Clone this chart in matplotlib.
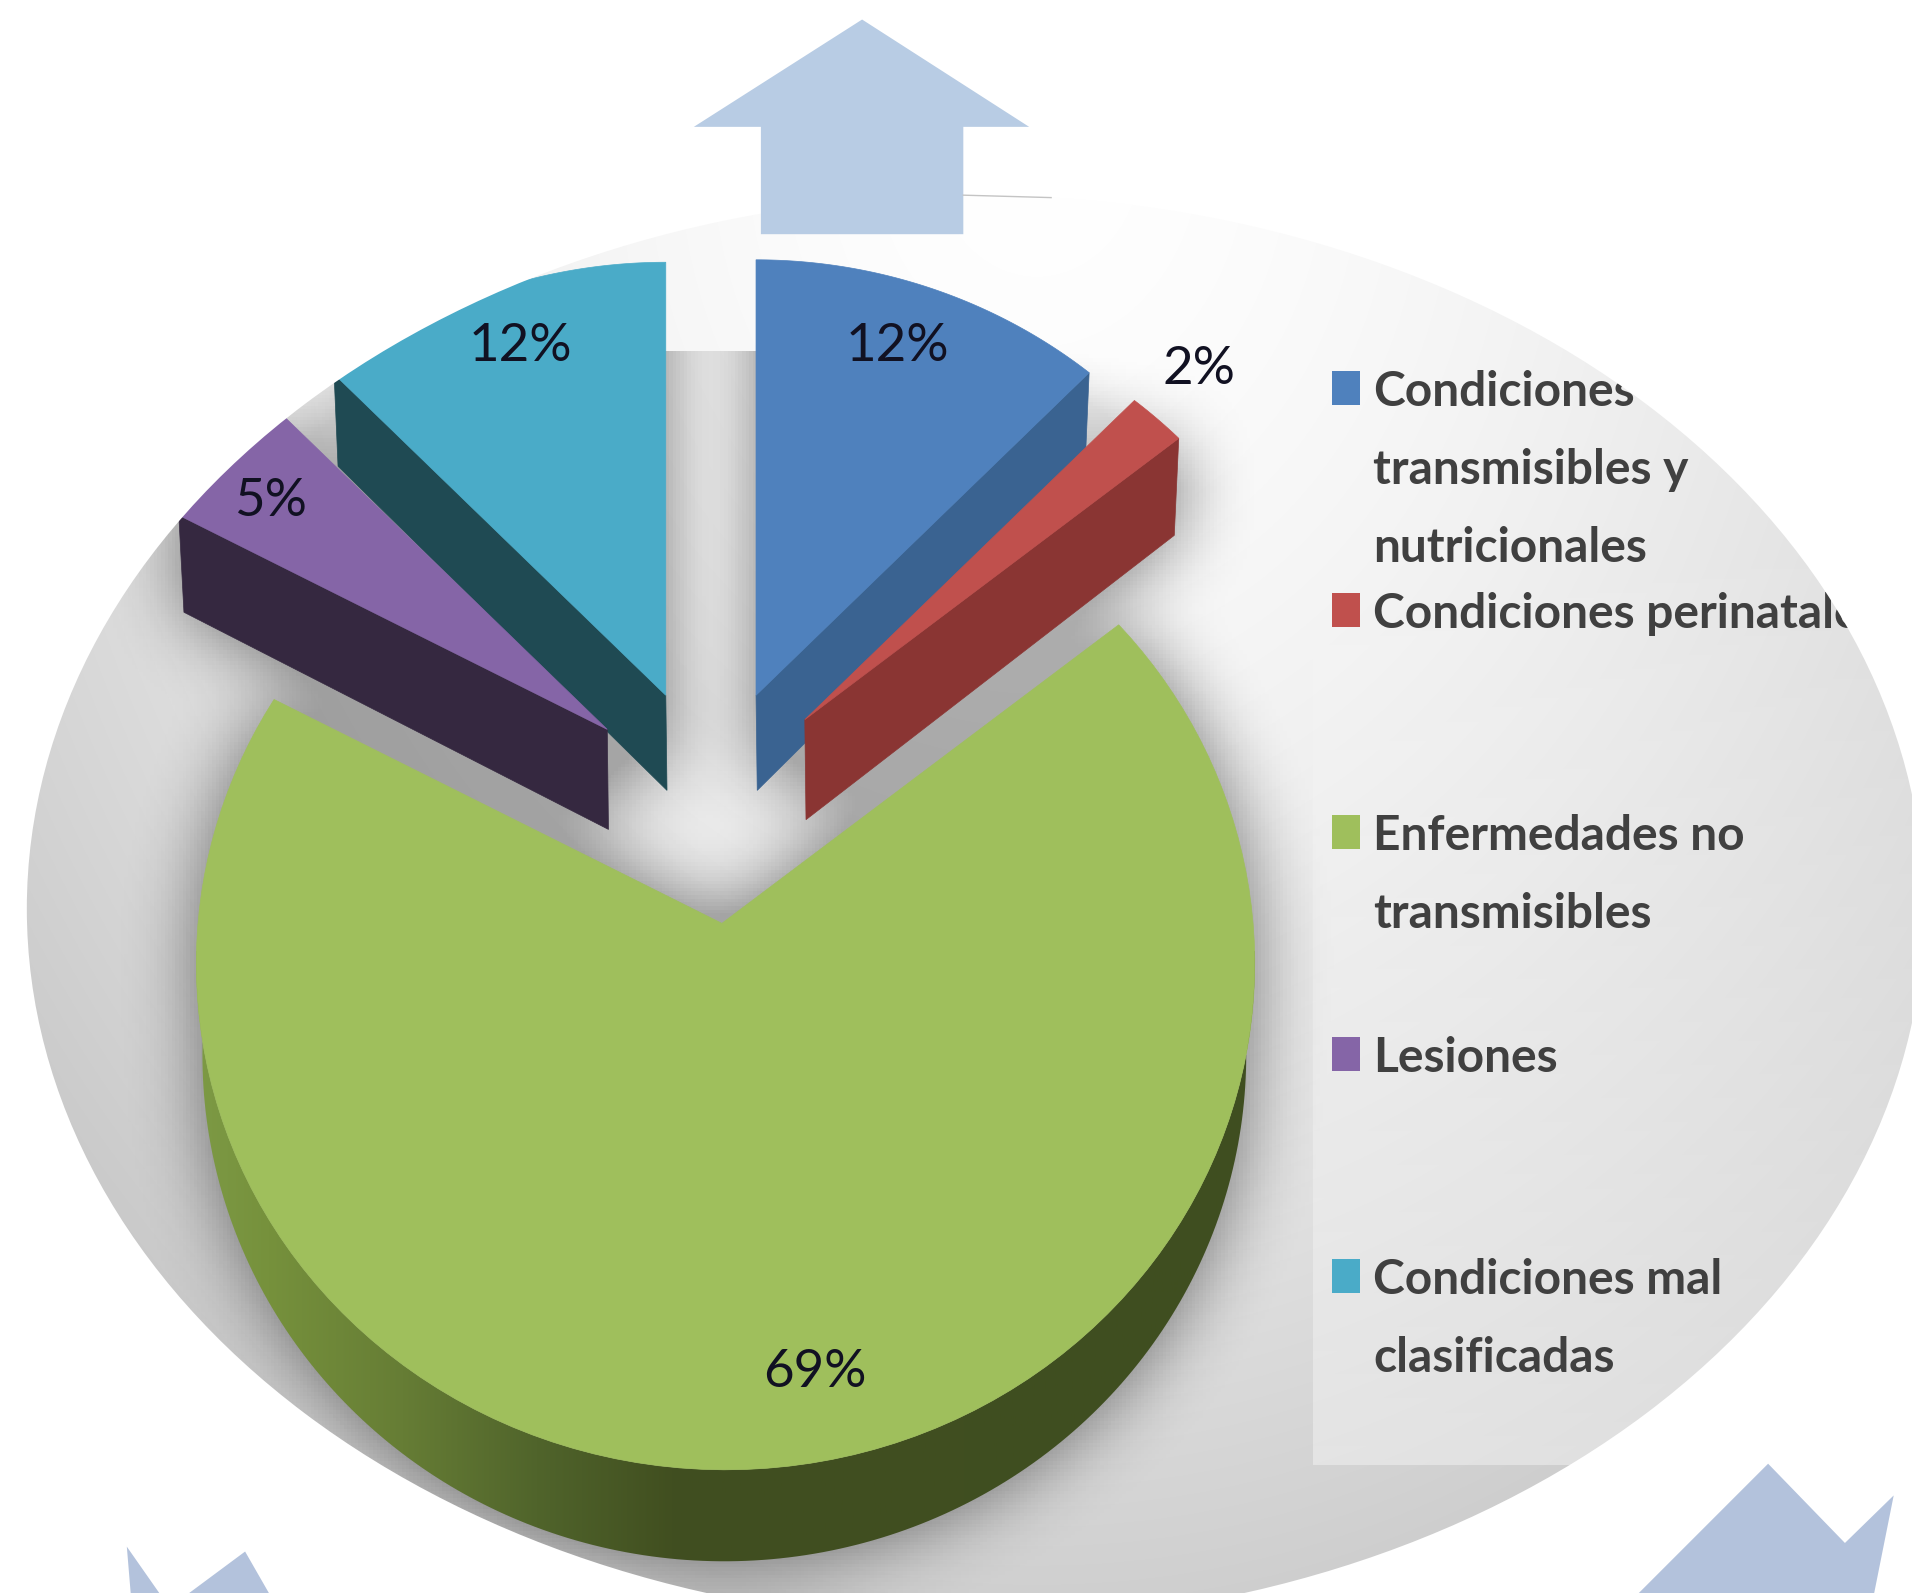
import numpy as np
from matplotlib import pyplot as plt
from matplotlib.patches import Ellipse, Polygon, PathPatch
from matplotlib.path import Path

# datos
categorias = ["Condiciones\ntransmisibles y\nnutricionales", "Condiciones perinatales",
              "Enfermedades no\ntransmisibles", "Lesiones", "Condiciones mal\nclasificadas"]
valores = [12, 2, 69, 5, 12]
etiquetas = ["12%", "2%", "69%", "5%", "12%"]

colores = ["#4f81bd", "#c0504d", "#9fbf5c", "#8565a7", "#4aabc8"]
lados = ["#3a6391", "#8a3533", "#3f4e20", "#352840", "#1f4a53"]

# posiciones en pixeles de la imagen reducida (1568x1306)
W, H = 1568, 1306
apices = [(620, 570), (660, 590), (592, 757), (498, 598), (546, 570)]
desvio_x = [0, 0, 3, 0, 0]
desvio = [58, 63, 33, 68, 60]           # centro de la elipse respecto al apice
prof = [78, 82, 75, 82, 78]
RX, RY = 434, 415
SESGO = 1.10
pos_etq = [(736, 284), (983, 303), (668, 1125), (222, 411), (427, 284)]
fuentes = ['Lato', 'DejaVu Sans']

fig = plt.figure(figsize=(19.12, 15.93), dpi=100)
ax = fig.add_axes([0, 0, 1, 1])
ax.set_axis_off()


def punto_arco(i, frac):
    # rayo desde el apice hasta la elipse de la cara superior
    t = 2 * np.pi * frac
    dx = SESGO * np.sin(t)
    dy = -np.cos(t)
    ox, oy = desvio_x[i], desvio[i]
    A = dx ** 2 / RX ** 2 + dy ** 2 / RY ** 2
    B = -2 * (dx * ox / RX ** 2 + dy * oy / RY ** 2)
    C = ox ** 2 / RX ** 2 + oy ** 2 / RY ** 2 - 1
    s = (-B + np.sqrt(B ** 2 - 4 * A * C)) / (2 * A)
    return apices[i][0] + dx * s, apices[i][1] + dy * s


def cara_superior(i, ini, fin):
    pts = [apices[i]]
    for f in np.linspace(ini, fin, 120):
        pts.append(punto_arco(i, f))
    return np.array(pts)


def cara_lateral(i, frac):
    x, y = punto_arco(i, frac)
    ax0, ay0 = apices[i]
    d = prof[i]
    return np.array([(ax0, ay0), (x, y), (x - (x - ax0) * 0.012, y + d * 0.97), (ax0 + 1, ay0 + d)])


def borde_verde():
    i = 2
    cx, cy = apices[i][0] + desvio_x[i], apices[i][1] + desvio[i]
    t = np.radians(np.linspace(86, 274, 200))
    arriba = np.c_[cx + RX * np.sin(t), cy - RY * np.cos(t)]
    abajo = np.c_[cx - 1 + (RX - 6) * np.sin(t), cy + prof[i] - RY * np.cos(t)]
    return np.vstack([arriba, abajo[::-1]])


def desenfoque(m, r):
    # tres pasadas de caja en cada eje
    for _ in range(3):
        for eje in (0, 1):
            p = np.pad(m, [(r + 1, r) if k == eje else (0, 0) for k in (0, 1)], mode='edge')
            c = np.cumsum(p, axis=eje)
            if eje == 0:
                m = (c[2 * r + 1:, :] - c[:-2 * r - 1, :]) / (2 * r + 1)
            else:
                m = (c[:, 2 * r + 1:] - c[:, :-2 * r - 1]) / (2 * r + 1)
    return m


cortes = np.concatenate([[0], np.cumsum(valores) / np.sum(valores)])
# lado visible de cada porcion (las de la izquierda muestran el borde inicial)
frac_lado = [cortes[1], cortes[2], None, cortes[3], cortes[4]]

# fondo eliptico con degradado
yy, xx = np.mgrid[0:H, 0:W]
d = np.sqrt(((xx - 850) / 900.0) ** 2 + ((yy - 120) / 1100.0) ** 2)
gris = 1 - 0.165 * d ** 1.6
ax.imshow(np.dstack([gris, gris, gris]), extent=(0, W, H, 0), aspect='auto', zorder=1)

# sombra suave de todo el grafico
paso = 3
gy, gx = np.mgrid[0:H:paso, 0:W:paso]
rejilla = np.c_[gx.ravel(), gy.ravel()]
mascara = np.zeros(gx.shape)
for i in range(len(valores)):
    caras = [cara_superior(i, cortes[i], cortes[i + 1])]
    if frac_lado[i] is not None:
        caras.append(cara_lateral(i, frac_lado[i]))
    else:
        caras.append(borde_verde())
    for c in caras:
        mascara = np.maximum(mascara, Path(c).contains_points(rejilla).reshape(gx.shape).astype(float))
sombra = desenfoque(mascara, 9)
sombra = np.clip(sombra * 1.7, 0, 1) * 0.30
# arriba la sombra se apaga, y entre las dos porciones azules corta en seco
rampa = np.clip((gy - 288) / 110.0, 0, 1)
hueco = (gx > 540) & (gx < 625) & (gy >= 288)
rampa[hueco] = 1
sombra = sombra * rampa
capa = np.zeros(gx.shape + (4,))
capa[..., 3] = sombra
ax.imshow(capa, extent=(0, W, H, 0), aspect='auto', zorder=2)

# recuadro de la leyenda, un poco mas claro
alfa = np.linspace(0, 0.30, 200)[:, None] ** 0.8
recuadro = np.dstack([np.ones_like(alfa)] * 3 + [alfa])
ax.imshow(recuadro, extent=(1077, W, 1201, 420), aspect='auto', zorder=3)

# borde verde con degradado horizontal
xs = [160, 220, 330, 440, 550, 1030]
tonos = np.array([(0x7d, 0x9a, 0x45), (0x76, 0x91, 0x3c), (0x66, 0x7d, 0x35),
                  (0x50, 0x64, 0x2b), (0x41, 0x4f, 0x20), (0x3f, 0x4e, 0x20)]) / 255.0
xg = np.arange(160, 1031)
grad = np.stack([np.interp(xg, xs, tonos[:, k]) for k in range(3)], axis=1)[None, :, :]
im = ax.imshow(grad, extent=(160, 1031, 1300, 780), aspect='auto', zorder=4)
pol_borde = Polygon(borde_verde(), closed=True, fc='none', ec='none', transform=ax.transData)
ax.add_patch(pol_borde)
im.set_clip_path(pol_borde)

# porciones, de atras hacia adelante
orden = [4, 0, 3, 1, 2]
for z, i in enumerate(orden):
    if frac_lado[i] is not None:
        ax.add_patch(Polygon(cara_lateral(i, frac_lado[i]), closed=True, fc=lados[i], ec=lados[i], lw=0.5, zorder=5 + z))
    ax.add_patch(Polygon(cara_superior(i, cortes[i], cortes[i + 1]), closed=True, fc=colores[i], ec=colores[i], lw=0.5, zorder=5 + z))

for i in range(len(valores)):
    ax.text(pos_etq[i][0], pos_etq[i][1], etiquetas[i], fontsize=38, family=fuentes, color='#111122',
            ha='center', va='center', zorder=20)

# leyenda
y0 = 304
for i in range(len(categorias)):
    yc = y0 + 182 * i
    ax.add_patch(Polygon([(1092, yc), (1115, yc), (1115, yc + 28), (1092, yc + 28)], closed=True,
                         fc=colores[i], ec='none', zorder=20))
    for k, linea in enumerate(categorias[i].split("\n")):
        ax.text(1126, yc + 29 + 64 * k, linea, fontsize=34.5, family=fuentes, fontweight='bold',
                color='#404040', ha='left', va='baseline', zorder=21)

# todo lo que queda fuera de la elipse se tapa de blanco (tambien el texto)
e = Ellipse((800, 745), 1556, 1170)
elipse = e.get_path().transformed(e.get_patch_transform())
marco = Path([(-5, -5), (-5, H + 5), (W + 5, H + 5), (W + 5, -5), (-5, -5)], closed=True)
ax.add_patch(PathPatch(Path.make_compound_path(marco, elipse), fc='white', ec='none', zorder=21.5))

# flechas decorativas
flechas = [
    ([(707, 16), (569, 104), (624, 104), (624, 192), (790, 192), (790, 104), (844, 104)], '#b8cce4'),
    ([(104, 1268), (139, 1318), (201, 1272), (240, 1340), (110, 1340)], '#b3c2dc'),
    ([(1344, 1306), (1450, 1200), (1513, 1265), (1553, 1226), (1537, 1306)], '#b3c2dc'),
]
for pts, col in flechas:
    ax.add_patch(Polygon(pts, closed=True, fc=col, ec='none', zorder=22))
ax.plot([790, 862], [160, 162], color='#c4c4c4', lw=1, zorder=22)

ax.set_xlim(0, W)
ax.set_ylim(H, 0)
fig.savefig("out.png", dpi=100, facecolor='white')
